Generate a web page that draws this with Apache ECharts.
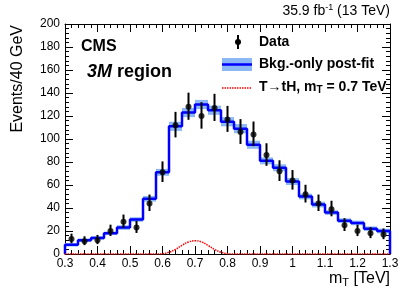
<!DOCTYPE html>
<html>
<head>
<meta charset="utf-8">
<script src="https://cdn.jsdelivr.net/npm/echarts@6/dist/echarts.min.js"></script>
<style>
html,body{margin:0;padding:0;background:#fff;}
#chart{width:407px;height:292px;}
</style>
</head>
<body>
<div id="chart"></div>
<script>
// ---- data ----
const binStart = 0.3;
const binWidth = 0.04;
const xTicks = [0.3, 0.4, 0.5, 0.6, 0.7, 0.8, 0.9, 1.0, 1.1, 1.2, 1.3];
const yTicks = [0, 20, 40, 60, 80, 100, 120, 140, 160, 180, 200];
const dataCounts = [13, 11, 12, 20, 28, 23, 44, 71, 112, 128, 120, 127, 117, 106, 104, 86, 72, 64, 52, 44, 39, 25, 20, 18, 17];
const dataErrDown = [3.6, 3.3, 3.4, 4.4, 5.2, 4.7, 6.6, 8.4, 10.6, 11.3, 11.0, 11.3, 10.8, 10.3, 10.2, 9.3, 8.5, 8.0, 7.2, 6.6, 6.2, 5.0, 4.4, 4.2, 4.1];
const dataErrUp = [4.7, 4.4, 4.6, 5.5, 6.3, 5.8, 7.7, 9.5, 11.6, 12.3, 12.0, 12.3, 11.8, 11.3, 11.2, 10.3, 9.5, 9.0, 8.2, 7.7, 7.3, 6.1, 5.5, 5.3, 5.2];
const bkgPostFit = [8, 12, 14, 18, 23, 30, 48, 71, 111, 123, 130, 125, 115, 109, 95, 81, 75, 63, 50, 43, 36, 29, 27, 22, 20];
const bkgUnc = [1.5, 1.5, 1.5, 1.5, 2, 2, 2.5, 3, 4, 4, 4, 4, 4, 4, 3.5, 3, 3, 3, 2.5, 2.5, 2, 2, 2, 2, 2];
const sigX = [0.30, 0.58, 0.60, 0.62, 0.64, 0.66, 0.68, 0.70, 0.72, 0.74, 0.76, 0.78, 0.80, 0.82, 1.30];
const sigY = [0, 0, 0.3, 1.5, 4, 7.5, 10.5, 11.5, 10.5, 7.5, 4, 1.5, 0.3, 0, 0];

// ---- derived structures ----
const nBins = dataCounts.length;
const lo = i => +(binStart + binWidth * i).toFixed(4);
const hi = i => +(binStart + binWidth * (i + 1)).toFixed(4);
const ctr = i => +(binStart + binWidth * (i + 0.5)).toFixed(4);

const bandData = bkgPostFit.map((v, i) => [lo(i), hi(i), v - bkgUnc[i], v + bkgUnc[i]]);
const stepData = [[lo(0), 0]];
bkgPostFit.forEach((v, i) => { stepData.push([lo(i), v]); stepData.push([hi(i), v]); });
stepData.push([hi(nBins - 1), 0]);
const pointData = dataCounts.map((v, i) => [ctr(i), v]);
const errData = dataCounts.map((v, i) => [ctr(i), v - dataErrDown[i], v + dataErrUp[i]]);
const sigData = sigX.map((x, i) => [x, sigY[i]]);

const FONT = '"Liberation Sans", Arial, Helvetica, sans-serif';
const BAND = '#8cb9f5';
const BLUE = '#0000ff';
const RED = '#ff0000';

const chart = echarts.init(document.getElementById('chart'), null, {renderer: 'canvas'});

const xBase = {
  type: 'value', min: xTicks[0], max: xTicks[xTicks.length - 1], interval: 0.1,
  axisLine: {show: true, onZero: false, lineStyle: {color: '#000', width: 1}},
  axisTick: {show: true, inside: true, length: 8, lineStyle: {color: '#000'}},
  minorTick: {show: true, splitNumber: 5, length: 4, lineStyle: {color: '#000'}},
  splitLine: {show: false}, minorSplitLine: {show: false}
};
const yBase = {
  type: 'value', min: yTicks[0], max: yTicks[yTicks.length - 1], interval: 20,
  axisLine: {show: true, onZero: false, lineStyle: {color: '#000', width: 1}},
  axisTick: {show: true, inside: true, length: 8, lineStyle: {color: '#000'}},
  minorTick: {show: true, splitNumber: 5, length: 4, lineStyle: {color: '#000'}},
  splitLine: {show: false}, minorSplitLine: {show: false}
};

const option = {
  animation: false,
  backgroundColor: '#fff',
  grid: {left: 65, right: 17, top: 24, bottom: 38, containLabel: false},
  xAxis: [
    Object.assign({}, xBase, {position: 'bottom',
      axisLabel: {show: true, margin: 4, fontSize: 12, color: '#000', fontFamily: FONT,
        formatter: v => String(+v.toFixed(1))}}),
    Object.assign({}, xBase, {position: 'top', axisLabel: {show: false}})
  ],
  yAxis: [
    Object.assign({}, yBase, {position: 'left',
      axisLabel: {show: true, margin: 5, fontSize: 12, color: '#000', fontFamily: FONT}}),
    Object.assign({}, yBase, {position: 'right', axisLabel: {show: false}})
  ],
  series: [
    {
      type: 'custom', name: 'band', data: bandData, z: 2,
      renderItem: (params, api) => {
        const p1 = api.coord([api.value(0), api.value(3)]);
        const p2 = api.coord([api.value(1), api.value(2)]);
        return {type: 'rect', shape: {x: p1[0], y: p1[1], width: p2[0] - p1[0], height: p2[1] - p1[1]},
          style: {fill: BAND}};
      }
    },
    {
      type: 'line', name: 'bkg', data: stepData, symbol: 'none', z: 3,
      lineStyle: {color: BLUE, width: 2.5}
    },
    {
      type: 'line', name: 'signal', data: sigData, symbol: 'none', smooth: 0.4, z: 4,
      lineStyle: {color: RED, width: 1.5, type: [1.5, 1]}
    },
    {
      type: 'custom', name: 'err', data: errData, z: 5,
      renderItem: (params, api) => {
        const a = api.coord([api.value(0), api.value(1)]);
        const b = api.coord([api.value(0), api.value(2)]);
        return {type: 'line', shape: {x1: a[0], y1: a[1], x2: b[0], y2: b[1]},
          style: {stroke: '#000', lineWidth: 2}};
      }
    },
    {
      type: 'scatter', name: 'Data', data: pointData, symbol: 'circle', symbolSize: 6, z: 6,
      itemStyle: {color: '#000'}
    }
  ],
  graphic: [
    {type: 'text', right: 17, top: 3, style: {
      text: '35.9 fb{sup|-1} (13 TeV)', fill: '#000', font: '14px ' + FONT,
      rich: {sup: {fontSize: 9, fontFamily: FONT, verticalAlign: 'top', lineHeight: 16}}}},
    {type: 'text', left: 81, top: 39, style: {text: 'CMS', fill: '#000', font: 'bold 16px ' + FONT}},
    {type: 'text', left: 87, top: 63, style: {
      text: '{i|3M} region', fill: '#000', font: 'bold 18px ' + FONT,
      rich: {i: {fontStyle: 'italic', fontWeight: 'bold', fontSize: 18, fontFamily: FONT}}}},
    // legend
    {type: 'line', shape: {x1: 238, y1: 35, x2: 238, y2: 49}, style: {stroke: '#000', lineWidth: 2}},
    {type: 'circle', shape: {cx: 238, cy: 42, r: 3}, style: {fill: '#000'}},
    {type: 'text', left: 259, top: 35, style: {text: 'Data', fill: '#000', font: 'bold 14px ' + FONT}},
    {type: 'rect', shape: {x: 222, y: 58, width: 30, height: 13}, style: {fill: BAND}},
    {type: 'line', shape: {x1: 222, y1: 64.5, x2: 252, y2: 64.5}, style: {stroke: BLUE, lineWidth: 2.5}},
    {type: 'text', left: 259, top: 57, style: {text: 'Bkg.-only post-fit', fill: '#000', font: 'bold 14px ' + FONT}},
    {type: 'line', shape: {x1: 222, y1: 88, x2: 252, y2: 88}, style: {stroke: RED, lineWidth: 1.5, lineDash: [1.5, 1]}},
    {type: 'text', left: 259, top: 80, style: {
      text: 'T\u2192tH, m{sub|T} = 0.7 TeV', fill: '#000', font: 'bold 14px ' + FONT,
      rich: {sub: {fontSize: 10, fontWeight: 'bold', fontFamily: FONT, verticalAlign: 'bottom', padding: [6, 0, 0, 0]}}}},
    // axis titles
    {type: 'text', right: 17, top: 271, style: {
      text: 'm{sub|T} [TeV]', fill: '#000', font: '16px ' + FONT,
      rich: {sub: {fontSize: 11, fontFamily: FONT, verticalAlign: 'bottom', padding: [7, 0, 0, 0]}}}},
    {type: 'text', x: 10, y: 25, rotation: Math.PI / 2, style: {
      text: 'Events/40 GeV', fill: '#000', font: '16px ' + FONT, align: 'right', verticalAlign: 'top'}}
  ]
};
chart.setOption(option);
</script>
</body>
</html>
